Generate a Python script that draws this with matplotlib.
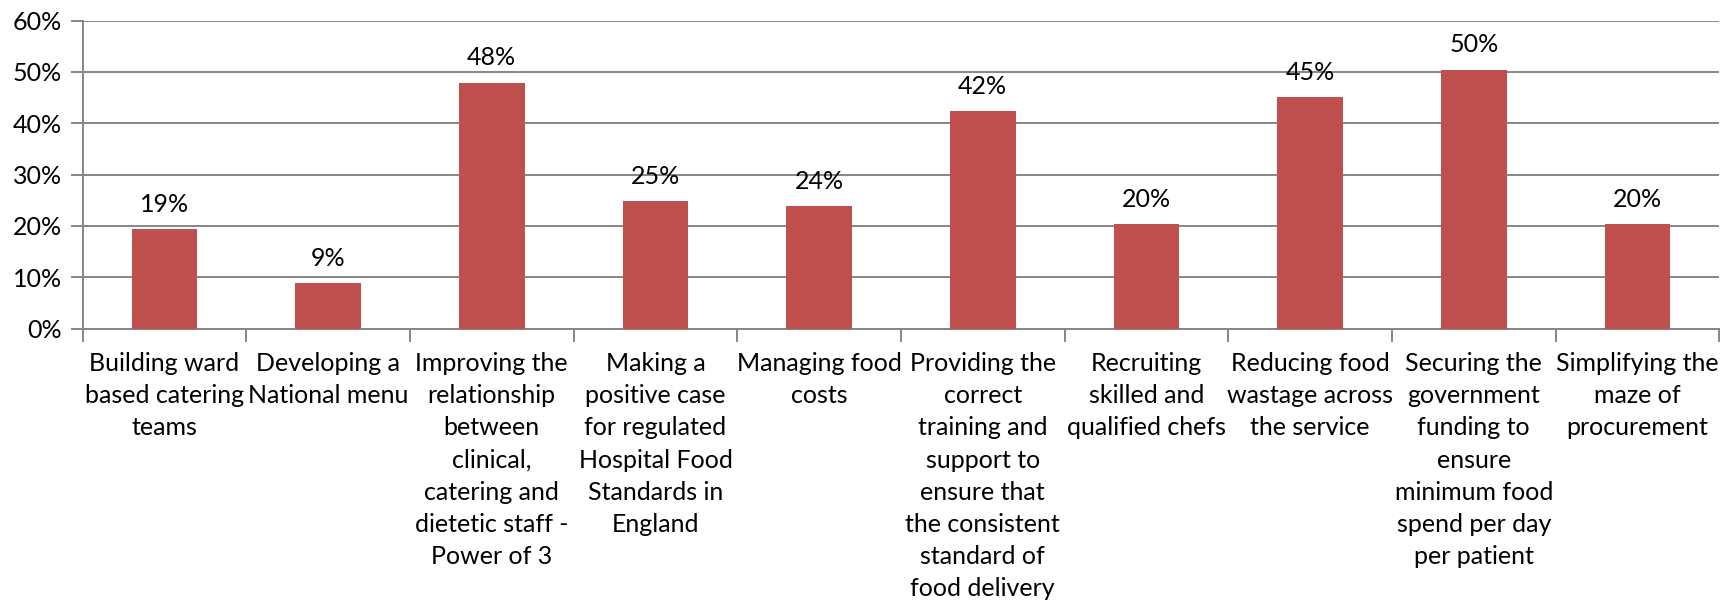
import matplotlib
matplotlib.use("Agg")
import matplotlib.pyplot as plt
import numpy as np

categories = [
    "Building ward\nbased catering\nteams",
    "Developing a\nNational menu",
    "Improving the\nrelationship\nbetween\nclinical,\ncatering and\ndietetic staff -\nPower of 3",
    "Making a\npositive case\nfor regulated\nHospital Food\nStandards in\nEngland",
    "Managing food\ncosts",
    "Providing the\ncorrect\ntraining and\nsupport to\nensure that\nthe consistent\nstandard of\nfood delivery",
    "Recruiting\nskilled and\nqualified chefs",
    "Reducing food\nwastage across\nthe service",
    "Securing the\ngovernment\nfunding to\nensure\nminimum food\nspend per day\nper patient",
    "Simplifying the\nmaze of\nprocurement",
]
values = [19.4, 8.9, 47.9, 24.8, 23.9, 42.4, 20.3, 45.1, 50.4, 20.3]
yticks = [0, 10, 20, 30, 40, 50, 60]

plt.rcParams['font.family'] = ['Lato', 'DejaVu Sans']
fig = plt.figure(figsize=(17.21, 6.04), dpi=100)
ax = fig.add_axes([0.048, 0.456, 0.951, 0.51])

x = np.arange(len(values))
ax.bar(x, values, width=0.4, color='#C0504D', zorder=3)
for xi, v in zip(x, values):
    ax.text(xi, v + 2.6, f"{v:.0f}%", ha='center', va='bottom', fontsize=18, color='#000000')

ax.set_xlim(-0.5, len(values) - 0.5)
ax.set_ylim(0, 60)
ax.set_yticks(yticks)
ax.set_yticklabels([f"{t}%" for t in yticks], fontsize=18)
ax.yaxis.grid(True, color='#868686', linewidth=1.4, zorder=0)
ax.set_xticks(x)
ax.set_xticklabels(categories, fontsize=18, linespacing=1.48, va='top')
ax.set_xticks(np.arange(-0.5, len(values)), minor=True)
ax.tick_params(axis='x', which='major', length=0, pad=17)
ax.tick_params(axis='x', which='minor', length=9, width=1.4, color='#868686', direction='out')
ax.tick_params(axis='y', length=9, width=1.4, color='#868686', pad=6)
for s in ['top', 'right']:
    ax.spines[s].set_visible(False)
for s in ['left', 'bottom']:
    ax.spines[s].set_color('#868686')
    ax.spines[s].set_linewidth(1.4)

fig.savefig('out.png', dpi=100)
